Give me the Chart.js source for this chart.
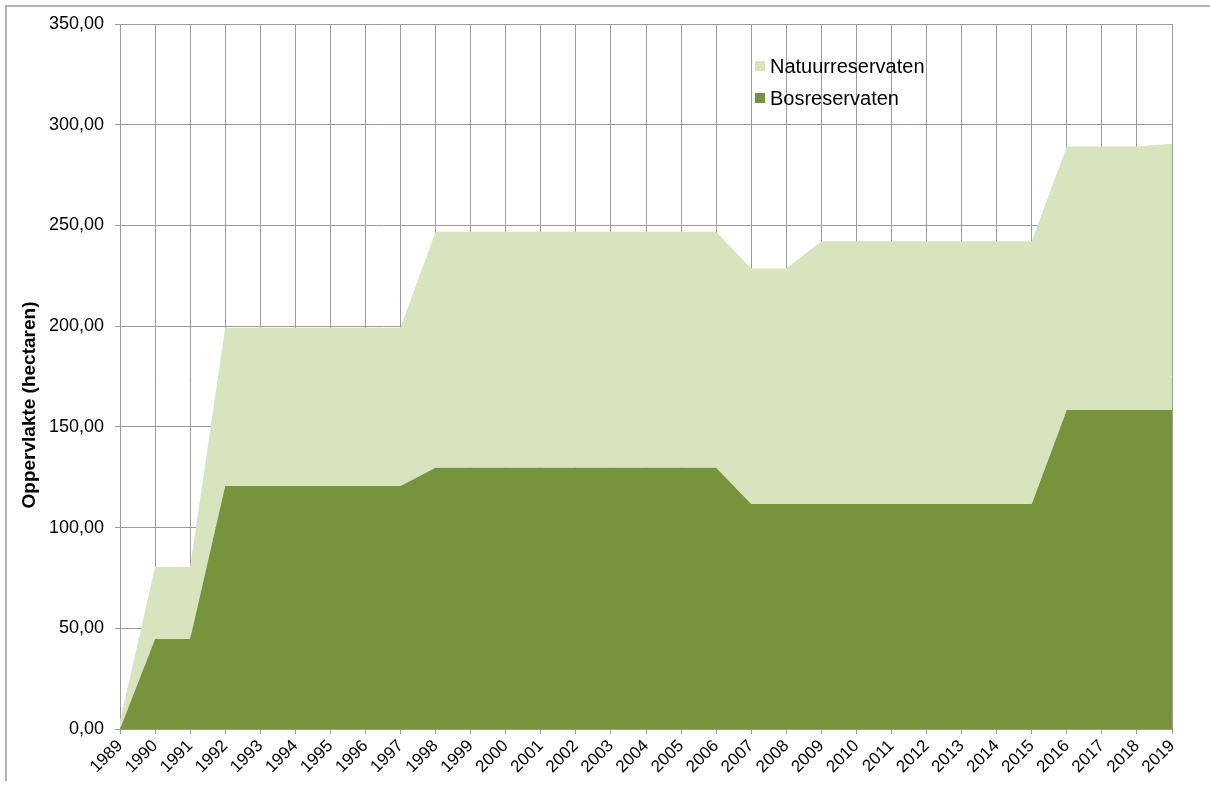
<!DOCTYPE html>
<html>
<head>
<meta charset="utf-8">
<script src="https://cdn.jsdelivr.net/npm/chart.js@4"></script>
<style>
    body { margin: 0; background: #fff; font-family: "Liberation Sans", Arial, sans-serif; }
    #wrap { position: relative; width: 1210px; height: 785px; }
    #frame { position: absolute; left: 5px; top: 5px; right: 0; bottom: 4px;
             border-left: 2px solid #b3b3b3; border-top: 2px solid #b3b3b3; }
    #legend { position: absolute; left: 755px; top: 50px; font-size: 20px; color: #000; }
    .legend-item { display: flex; align-items: center; height: 32px; }
    .legend-dot { width: 10px; height: 10px; margin-right: 5px; }
</style>
</head>
<body>
<div id="wrap">
    <div id="frame"></div>
    <canvas id="chart" width="1210" height="785"></canvas>
    <div id="legend"></div>
</div>
<script>
// Jaren
const YEARS = ['1989','1990','1991','1992','1993','1994','1995','1996','1997','1998','1999','2000',
               '2001','2002','2003','2004','2005','2006','2007','2008','2009','2010','2011','2012',
               '2013','2014','2015','2016','2017','2018','2019']

// Bosreservaten (ha)
const BOS = [0, 44.7, 44.7, 120.7, 120.7, 120.7, 120.7, 120.7, 120.7, 129.7, 129.7, 129.7,
             129.7, 129.7, 129.7, 129.7, 129.7, 129.7, 111.7, 111.7, 111.7, 111.7, 111.7, 111.7,
             111.7, 111.7, 111.7, 158.4, 158.4, 158.4, 158.4]

// Natuurreservaten (ha), gestapeld bovenop bos
const NATUUR = [4, 35.7, 35.7, 78.5, 78.5, 78.5, 78.5, 78.5, 78.5, 117.1, 117.1, 117.1,
                117.1, 117.1, 117.1, 117.1, 117.1, 117.1, 116.9, 116.9, 130.4, 130.4, 130.4, 130.4,
                130.4, 130.4, 130.4, 130.8, 130.8, 130.8, 132.2]

const Y_TITLE = 'Oppervlakte (hectaren)'

const COL_BOS = '#77933C'
const COL_NATUUR = '#D7E4BD'
const GRID = '#9a9a9a'
const FONT = '"Liberation Sans", Arial, sans-serif'

// -- titel y-as, iets onder het midden zoals in het origineel --
const yTitlePlugin = {
    id: 'yTitle',
    afterDraw(chart) {
        const ctx = chart.ctx
        ctx.save()
        ctx.translate(30, 405)
        ctx.rotate(-Math.PI / 2)
        ctx.font = 'bold 19px ' + FONT
        ctx.fillStyle = '#000'
        ctx.textAlign = 'center'
        ctx.textBaseline = 'middle'
        ctx.fillText(Y_TITLE, 0, 0)
        ctx.restore()
    }
}

new Chart(document.getElementById('chart'), {
    type: 'line',
    data: {
        labels: YEARS,
        datasets: [
            { label: 'Bosreservaten', data: BOS, backgroundColor: COL_BOS, borderWidth: 0,
              pointRadius: 0, fill: 'origin', tension: 0 },
            { label: 'Natuurreservaten', data: NATUUR, backgroundColor: COL_NATUUR, borderWidth: 0,
              pointRadius: 0, fill: '-1', tension: 0 }
        ]
    },
    options: {
        responsive: false,
        animation: false,
        layout: { padding: { top: 24, right: 38, left: 0, bottom: 0 } },
        plugins: {
            legend: { display: false },
            tooltip: { enabled: false }
        },
        scales: {
            x: {
                offset: false,
                grid: { color: GRID, lineWidth: 1, tickLength: 5, drawOnChartArea: true },
                border: { color: GRID, width: 1 },
                ticks: { color: '#000', font: { family: FONT, size: 17 }, maxRotation: 45,
                         minRotation: 45, autoSkip: false, padding: 2 },
                afterFit: s => { s.height = 56 }
            },
            y: {
                stacked: true,
                min: 0, max: 350,
                grid: { color: GRID, lineWidth: 1, tickLength: 5 },
                border: { color: GRID, width: 1 },
                ticks: { stepSize: 50, color: '#000', font: { family: FONT, size: 18 }, padding: 11,
                         callback: v => v.toFixed(2).replace('.', ',') },
                afterFit: s => { s.width = 120 }
            }
        }
    },
    plugins: [yTitlePlugin]
})

// -- Legende (volgorde als in het origineel: natuur boven) --
const legendItems = [['Natuurreservaten', COL_NATUUR], ['Bosreservaten', COL_BOS]]
document.getElementById('legend').innerHTML = legendItems.map(([l, c]) =>
    `<div class="legend-item"><span class="legend-dot" style="background:${c}"></span>${l}</div>`
).join('')
</script>
</body>
</html>
